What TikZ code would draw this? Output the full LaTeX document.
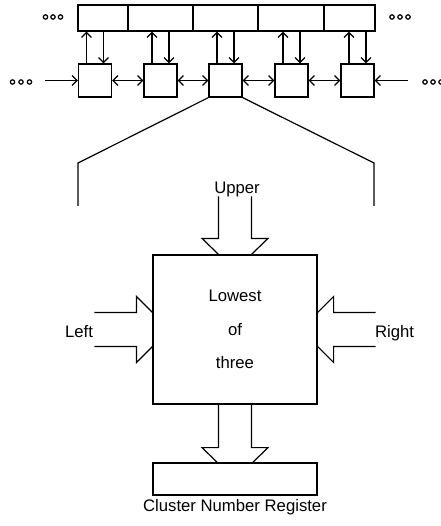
\documentclass[tikz,border=0pt]{standalone}
\usepackage{fontspec}
\setmainfont{Liberation Sans}
\usetikzlibrary{calc,arrows.meta,positioning}
\tikzset{
  ar/.style={-{Straight Barb[length=5pt,width=10pt]},line width=1.2pt},
  dar/.style={{Straight Barb[length=5pt,width=10pt]}-{Straight Barb[length=5pt,width=10pt]},line width=1.2pt},
  cell/.style={draw,line width=1.2pt,minimum height=26pt,inner sep=0pt},
  pe/.style={draw,line width=1.2pt,minimum size=33pt,inner sep=0pt},
  big/.style={draw,line width=1.2pt,inner sep=0pt,align=center,font=\fontsize{16.7}{33.5}\selectfont},
  lbl/.style={font=\fontsize{16.7}{20}\selectfont,inner sep=0pt},
  hol/.style={line width=1.2pt,line join=miter},
  dot/.style={line width=1.2pt}
}

\begin{document}
\begin{tikzpicture}[x=1pt,y=-1pt]
\useasboundingbox (0,0) rectangle (440,526);
% register cells and processing elements
\foreach \n/\x/\w in {1/103/50,2/160.5/65,3/225.5/65,4/291/66,5/349.5/51}
  \node[cell,minimum width=\w pt] (c\n) at (\x,18) {};
\foreach \n/\x in {1/95,2/160.5,3/225.5,4/291.5,5/357.5}
  \node[pe] (p\n) at (\x,80.5) {};
% up and down links
\foreach \n in {1,...,5}{
  \coordinate (u\n) at ([xshift=-8.5pt]p\n.north);
  \coordinate (d\n) at ([xshift=8.5pt]p\n.north);
  \draw[ar] (u\n) -- (u\n |- c1.south);
  \draw[ar] (d\n |- c1.south) -- (d\n);
}
% neighbour links
\foreach \a/\b in {1/2,2/3,3/4,4/5}
  \draw[dar] (p\a.east) -- (p\b.west);
\coordinate (inl) at (45,80.5);
\coordinate (inr) at (408,80.5);
\draw[ar] (inl) -- (p1.west);
\draw[ar] (inr) -- (p5.east);
% continuation dots
\foreach \x in {45.5,53,60.5} \draw[dot] (\x,17) circle (2.2pt);
\foreach \x in {392,400,408} \draw[dot] (\x,17) circle (2.2pt);
\foreach \x in {12.5,21,29.5} \draw[dot] (\x,82) circle (2.2pt);
\foreach \x in {425,433,441} \draw[dot] (\x,82) circle (2.2pt);
% zoom lines
\coordinate (fl) at (78,163);
\coordinate (fr) at (374,163);
\draw[line width=1.2pt] (p3.south west) -- (fl) -- ++(0,43);
\draw[line width=1.2pt] (p3.south east) -- (fr) -- ++(0,43);
% detail of one element
\node[big,minimum width=164pt,minimum height=149pt] (lot) at (235,329.5) {Lowest\\of\\three};
\node[draw,line width=1.2pt,minimum width=164pt,minimum height=32pt,inner sep=0pt] (cnr) at (235,479) {};
\node[lbl,below=4pt of cnr] (cnrl) {Cluster Number Register};
\node[lbl,anchor=base] (upl) at (237,194) {Upper};
\node[lbl,anchor=base] (lft) at (79,337) {Left};
\node[lbl,anchor=base] (rgt) at (394.5,337) {Right};
% hollow arrows
\draw[hol] ($(lot.north)+(-16.5,-58)$) -- ++(0,42) -- ++(-16.5,0) -- ++(16.5,16);
\draw[hol] ($(lot.north)+(16.5,-58)$) -- ++(0,42) -- ++(16.5,0) -- ++(-16.5,16);
\draw[hol] ($(lot.south)+(-16.5,0)$) -- ++(0,43) -- ++(-16.5,0) -- ++(16.5,16);
\draw[hol] ($(lot.south)+(16.5,0)$) -- ++(0,43) -- ++(16.5,0) -- ++(-16.5,16);
\draw[hol] ($(lot.west)+(-58,-17)$) -- ++(42,0) -- ++(0,-16) -- ++(16,16);
\draw[hol] ($(lot.west)+(-58,17)$) -- ++(42,0) -- ++(0,16) -- ++(16,-16);
\draw[hol] ($(lot.east)+(58,-17)$) -- ++(-42,0) -- ++(0,-16) -- ++(-16,16);
\draw[hol] ($(lot.east)+(58,17)$) -- ++(-42,0) -- ++(0,16) -- ++(-16,-16);
\end{tikzpicture}
\end{document}
